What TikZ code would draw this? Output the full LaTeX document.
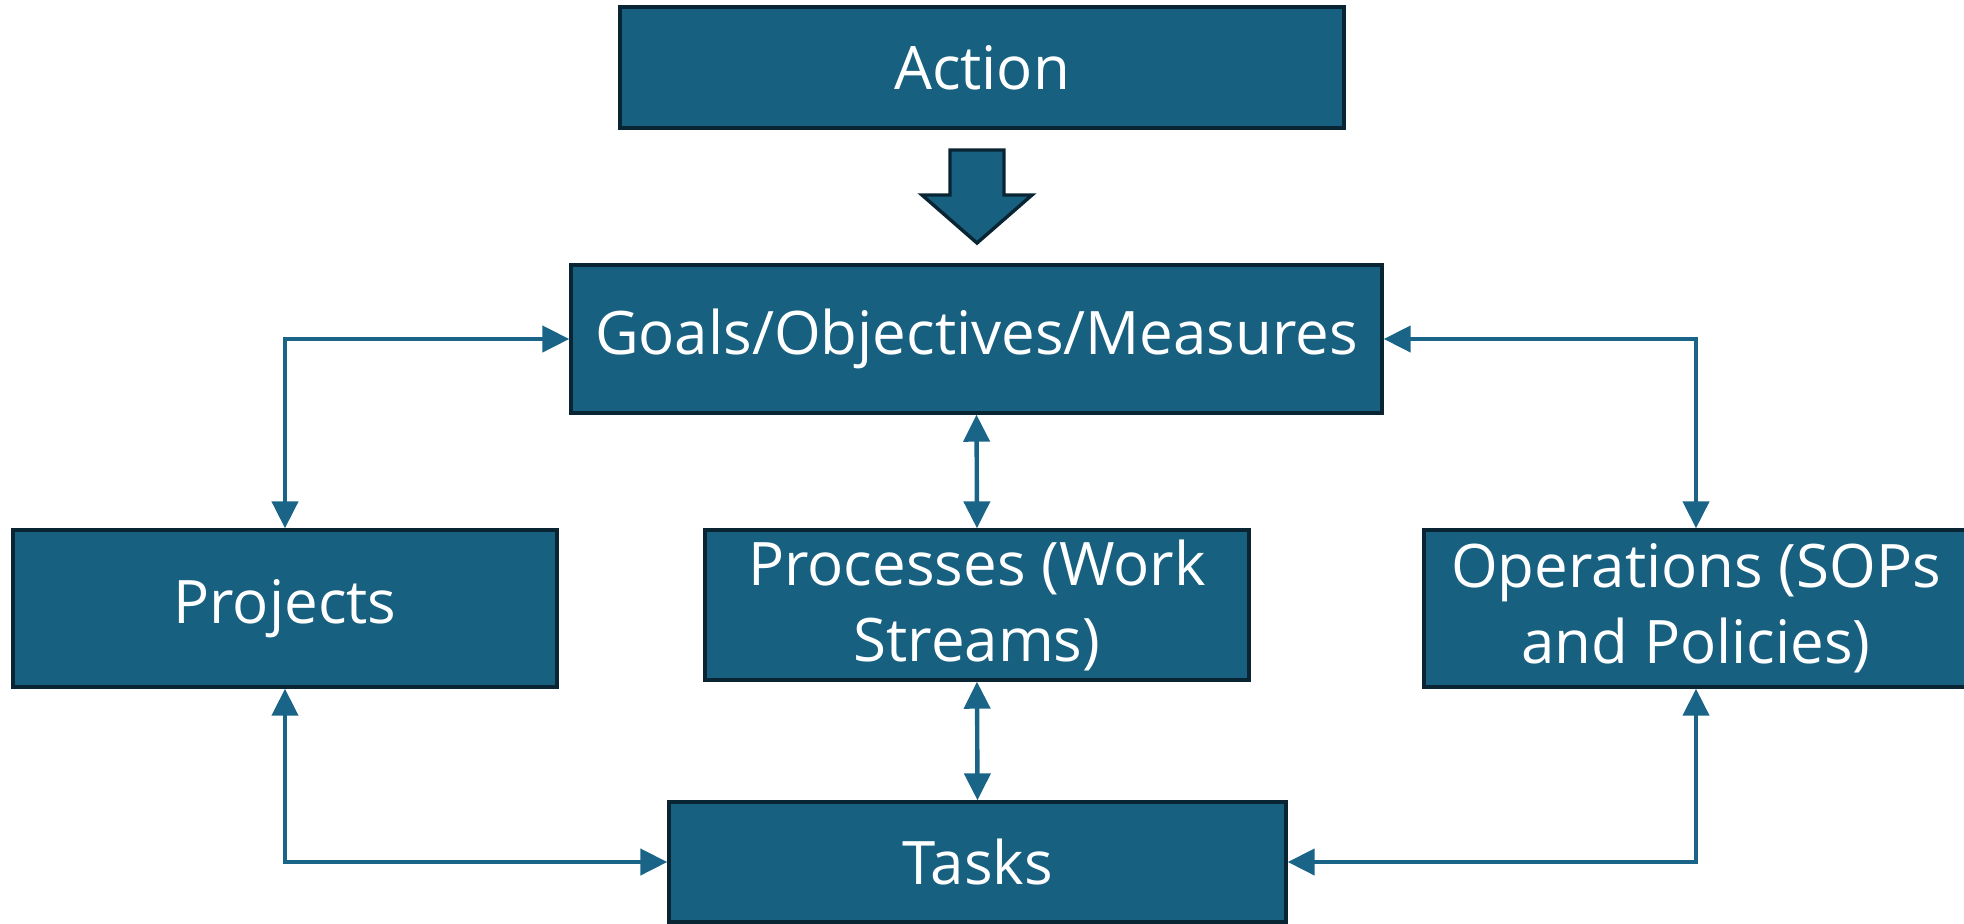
\documentclass[tikz,border=0pt]{standalone}
\usepackage{fontspec}
\setmainfont{Open Sans}
\usepackage{tikz}
\usetikzlibrary{arrows.meta}
\usetikzlibrary{positioning}
\usetikzlibrary{calc}
\definecolor{boxblue}{RGB}{24,96,128}
\definecolor{boxedge}{RGB}{9,37,52}
\definecolor{linkblue}{RGB}{26,101,135}
\def\sideW{272pt}
\def\sideH{78.5pt}

\tikzset{
    box/.style={draw=boxedge, line width=1.7pt, fill=boxblue, text=white,
        align=center, inner sep=0pt, font=\fontsize{30}{38}\selectfont},
    link/.style={<->, >={Triangle[length=13.5pt,width=13pt]}, draw=linkblue,
        line width=2.2pt},
}

\begin{document}
\begin{tikzpicture}[x=0.5pt, y=-0.5pt]
        \useasboundingbox (0,0) rectangle (1964,923);

        \node[box, minimum width=362pt, minimum height=60.5pt] (action) at (982,67.5) {Action};
        \node[box, minimum width=405.5pt, minimum height=74pt] (goals) at (976.5,339)
        {Goals/Objectives/Measures};

        \node[box, minimum width=\sideW, minimum height=\sideH] (projects) at (285,608.5) {Projects};
        \node[box, minimum width=\sideW, minimum height=75pt] (processes) at (977,605)
        {Processes (Work\\Streams)};
        \node[box, minimum width=\sideW, minimum height=\sideH] (operations) at (1696,608.5)
        {Operations (SOPs\\and Policies)};

        \node[box, minimum width=308.5pt, minimum height=60pt] (tasks) at (977.5,862) {Tasks};

        % block arrow from action down to goals
        \coordinate (arrowtip) at (977,243);
        \draw[draw=boxedge, line width=1.7pt, fill=boxblue, line join=miter]
        ($(arrowtip)+(-27,-93)$) -- ++(54,0) -- ++(0,45) -- ++(28,0) -- (arrowtip)
        -- ++(-55,-48) -- ++(28,0) -- cycle;

        \draw[link] (projects.north) |- (goals.west);
        \draw[link] (goals.east) -| (operations.north);
        \draw[link] (goals.south) -- (processes.north);
        \draw[link] (processes.south) -- (tasks.north);
        \draw[link] (projects.south) |- (tasks.west);
        \draw[link] (operations.south) |- (tasks.east);
    \end{tikzpicture}
\end{document}
